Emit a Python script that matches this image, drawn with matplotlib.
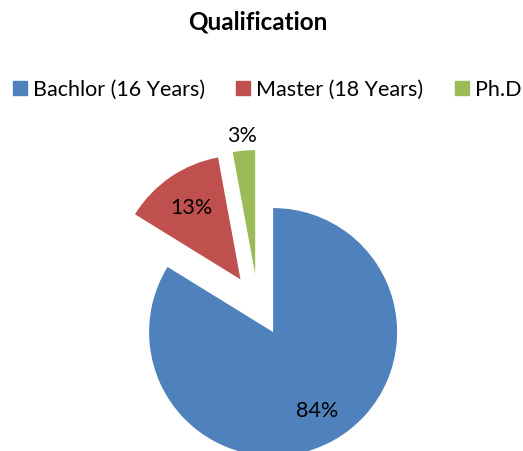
import numpy as np
import matplotlib
matplotlib.use("Agg")
import matplotlib.pyplot as plt
from matplotlib.lines import Line2D

plt.rcParams["font.family"] = ["Lato", "DejaVu Sans"]

# data
categories = ["Bachlor (16 Years)", "Master (18 Years)", "Ph.D"]
shares = [83.8, 13.3, 2.9]
pct_labels = ["84%", "13%", "3%"]
colors = ["#4F81BD", "#C0504D", "#9BBB59"]

W, H = 523, 451
fig = plt.figure(figsize=(W / 100, H / 100), dpi=100)
ax = fig.add_axes([0, 0, 1, 1])

wedges, _ = ax.pie(shares, colors=colors, startangle=90, counterclock=False,
                   explode=[0.25] * 3, radius=1.0,
                   wedgeprops=dict(linewidth=0))

# pie centre at pixel (258, 305), radius 124 px -- set after pie() resets limits
R_PX = 124.0
CX, CY = 258.0, 305.0
ax.set_xlim(-CX / R_PX, (W - CX) / R_PX)
ax.set_ylim(-(H - CY) / R_PX, CY / R_PX)
ax.set_aspect("equal")
ax.axis("off")

# percentage labels (green one sits outside the slice)
dists = [0.73, 0.70, 1.12]
for w, lab, d in zip(wedges, pct_labels, dists):
    ang = np.deg2rad((w.theta1 + w.theta2) / 2)
    cx, cy = w.center
    ax.text(cx + d * np.cos(ang), cy + d * np.sin(ang), lab,
            ha="center", va="center", fontsize=15.5, color="black")

fig.text(258 / W, 1 - 22 / H, "Qualification", ha="center", va="center",
         fontsize=17.5, fontweight="bold")

handles = [Line2D([], [], marker="s", linestyle="", color=c, markersize=10)
           for c in colors]
fig.legend(handles, categories, loc="center left", ncol=3, frameon=False,
           bbox_to_anchor=(10 / W, 1 - 90 / H), fontsize=15.5,
           handlelength=0.9, handletextpad=0.15, columnspacing=1.35,
           borderaxespad=0, borderpad=0)

fig.savefig("out.png", dpi=100)
